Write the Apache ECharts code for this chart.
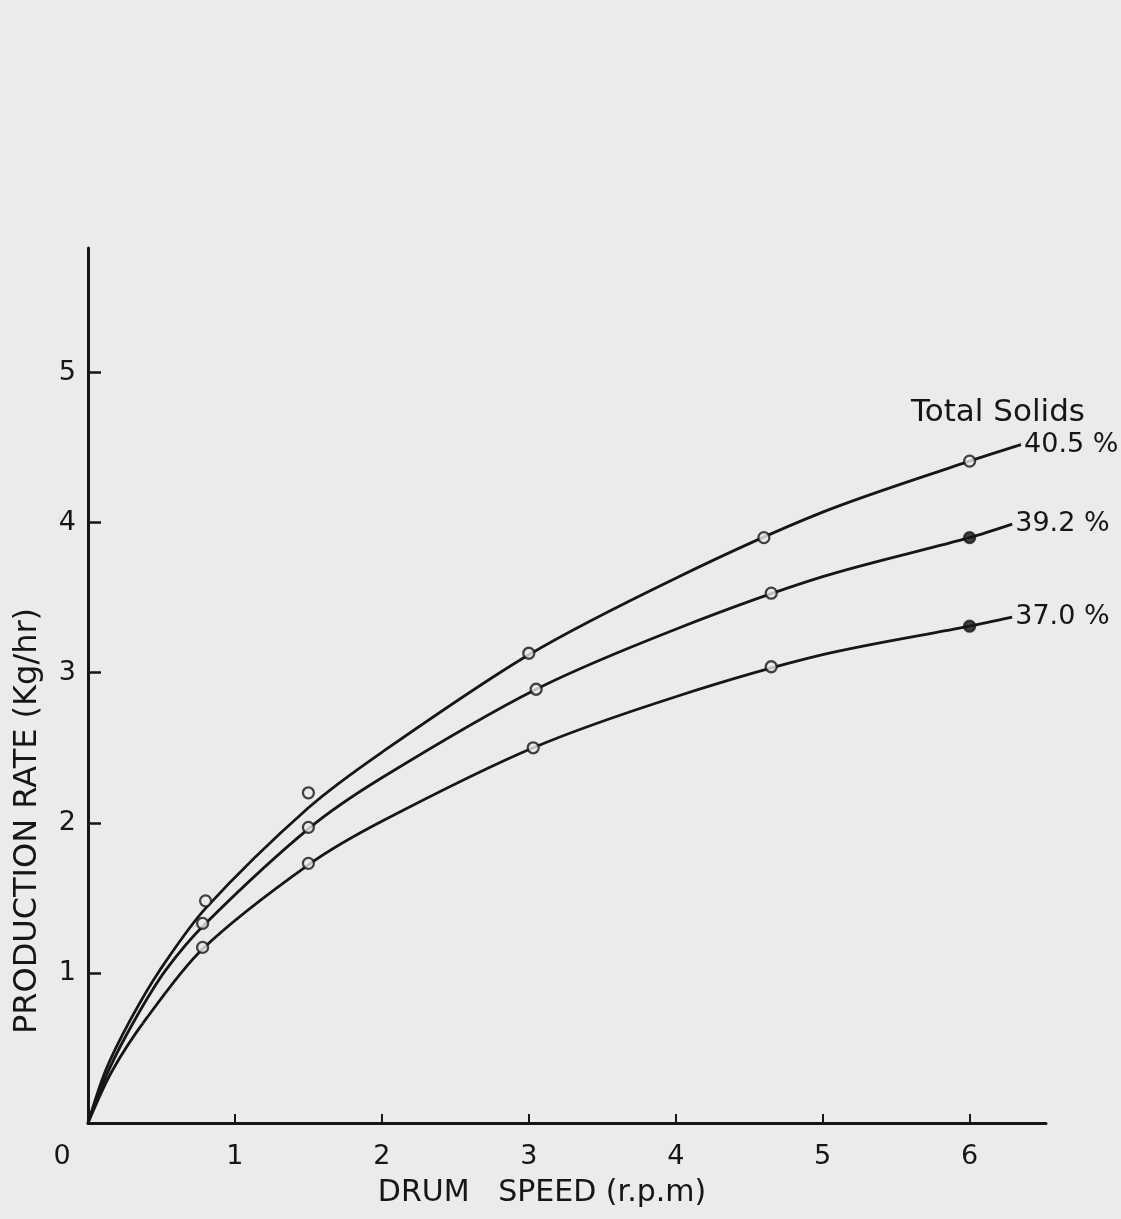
<!DOCTYPE html>
<html>
<head>
<meta charset="utf-8">
<script src="https://cdn.jsdelivr.net/npm/echarts@6/dist/echarts.min.js"></script>
<style>
html,body{margin:0;padding:0;background:#ebebeb;}
#chart{width:1121px;height:1219px;}
</style>
</head>
<body>
<div id="chart"></div>
<script>
// Tick labels
var xTicks = [0, 1, 2, 3, 4, 5, 6];
var yTicks = [1, 2, 3, 4, 5];
var seriesNames = ['40.5 %', '39.2 %', '37.0 %'];

// Smooth fitted curves [drum speed rpm, production kg/hr]
var curve405 = [[0,0],[0.12,0.35],[0.29,0.69],[0.49,1.02],[0.8,1.43],[1.5,2.1],[2,2.47],[3,3.12],[4,3.63],[5,4.07],[6,4.41],[6.35,4.52]];
var curve392 = [[0,0],[0.14,0.35],[0.32,0.69],[0.53,1.02],[0.8,1.33],[1.5,1.96],[2,2.3],[3.05,2.89],[4,3.29],[5,3.64],[6,3.9],[6.29,3.99]];
var curve370 = [[0,0],[0.16,0.34],[0.4,0.7],[0.78,1.16],[1.5,1.72],[2,2.01],[3.03,2.5],[4,2.84],[5,3.12],[6,3.31],[6.29,3.37]];

// Measured points
var pts405 = [[0.8,1.48],[1.5,2.2],[3.0,3.13],[4.6,3.9],[6.0,4.41]];
var pts392 = [[0.78,1.33],[1.5,1.97],[3.05,2.89],[4.65,3.53],[6.0,3.9]];
var pts370 = [[0.78,1.17],[1.5,1.73],[3.03,2.5],[4.65,3.04],[6.0,3.31]];
// which points are drawn filled (per series)
var filled405 = [false,false,false,false,false];
var filled392 = [false,false,false,false,true];
var filled370 = [false,false,false,false,true];

var INK = '#161616';
var BG = '#ebebeb';
var FONT = '"DejaVu Sans"';

function curveSeries(name, data) {
  return {
    type: 'line', name: name, data: data, smooth: 0.3, symbol: 'none',
    lineStyle: {color: INK, width: 2.8}, z: 3, silent: true,
    endLabel: {show: true, formatter: name, color: INK, fontFamily: FONT, fontSize: 27, distance: 3}
  };
}
function pointSeries(data, filled) {
  return {
    type: 'scatter', symbol: 'circle', symbolSize: 11, z: 5, silent: true,
    data: data.map(function(p, i){
      return {value: p, itemStyle: {color: filled[i] ? INK : BG, borderColor: INK, borderWidth: 2.3}};
    })
  };
}

var chart = echarts.init(document.getElementById('chart'), null, {renderer: 'canvas'});
chart.setOption({
  backgroundColor: BG,
  animation: false,
  grid: {left: 88, right: 75, top: 248, bottom: 96},
  xAxis: {
    type: 'value', min: 0, max: 6.52, interval: 1,
    splitLine: {show: false},
    axisLine: {lineStyle: {color: INK, width: 3}},
    axisTick: {show: true, inside: true, length: 9, lineStyle: {color: INK, width: 2}, customValues: [1,2,3,4,5,6]},
    axisLabel: {
      customValues: xTicks, margin: 20, color: INK, fontFamily: FONT, fontSize: 27,
      formatter: function(v){ return v === 0 ? '{z|0}' : String(v); },
      rich: {z: {fontFamily: FONT, fontSize: 27, color: INK, padding: [0, 52, 0, 0]}}
    }
  },
  yAxis: {
    type: 'value', min: 0, max: 5.83, interval: 1,
    splitLine: {show: false},
    axisLine: {lineStyle: {color: INK, width: 3}},
    axisTick: {show: true, inside: true, length: 13, lineStyle: {color: INK, width: 2.5}, customValues: yTicks},
    axisLabel: {customValues: yTicks, margin: 12, color: INK, fontFamily: FONT, fontSize: 27}
  },
  series: [
    curveSeries(seriesNames[0], curve405),
    curveSeries(seriesNames[1], curve392),
    curveSeries(seriesNames[2], curve370),
    pointSeries(pts405, filled405),
    pointSeries(pts392, filled392),
    pointSeries(pts370, filled370)
  ],
  graphic: [
    {type: 'text', x: 998, y: 413,
     style: {text: 'Total Solids', fill: INK, font: '31px ' + FONT, align: 'center', verticalAlign: 'middle'}},
    {type: 'text', x: 28, y: 821, rotation: Math.PI/2,
     style: {text: 'PRODUCTION RATE (Kg/hr)', fill: INK, font: '32px ' + FONT, align: 'center', verticalAlign: 'middle'}},
    {type: 'text', x: 542, y: 1193,
     style: {text: 'DRUM   SPEED (r.p.m)', fill: INK, font: '30px ' + FONT, align: 'center', verticalAlign: 'middle'}}
  ]
});
</script>
</body>
</html>
